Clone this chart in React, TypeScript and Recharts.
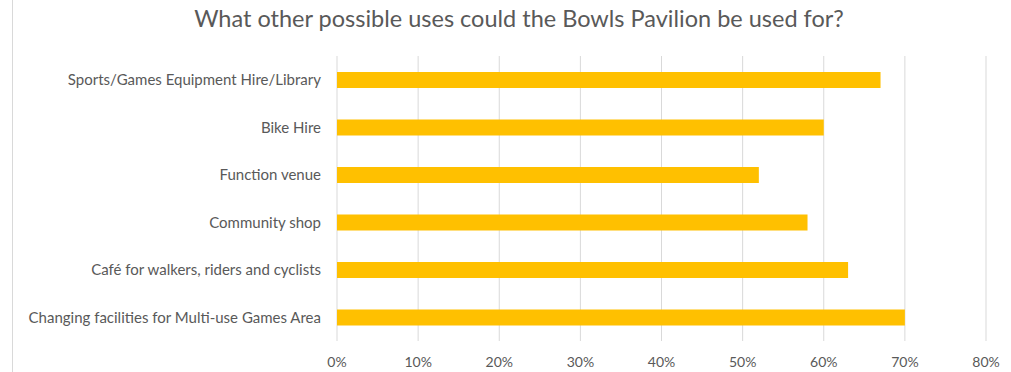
import React from "react";
import {
  BarChart,
  Bar,
  XAxis,
  YAxis,
  CartesianGrid,
} from "recharts";

const uses = [
  "Sports/Games Equipment Hire/Library",
  "Bike Hire",
  "Function venue",
  "Community shop",
  "Café for walkers, riders and cyclists",
  "Changing facilities for Multi-use Games Area",
];
const shares = [0.67, 0.6, 0.52, 0.58, 0.63, 0.7];
const pctTicks = [0, 0.1, 0.2, 0.3, 0.4, 0.5, 0.6, 0.7, 0.8];

const data = uses.map((use, i) => ({ use, share: shares[i] }));

const FONT = "Lato, 'Open Sans', sans-serif";
const GREY = "#595959";

export default function App() {
  return (
    <div
      style={{
        position: "fixed",
        left: 0,
        top: 0,
        width: 1011,
        height: 372,
        background: "#fff",
        fontFamily: FONT,
      }}
    >
      <div
        style={{
          position: "absolute",
          left: 12,
          top: 0,
          width: 1,
          height: 372,
          background: "#d9d9d9",
        }}
      />
      <div
        style={{
          position: "absolute",
          left: 0,
          right: 0,
          top: 4,
          textAlign: "center",
          fontSize: 23.5,
          color: GREY,
          paddingLeft: 27,
        }}
      >
        What other possible uses could the Bowls Pavilion be used for?
      </div>
      <BarChart
        layout="vertical"
        width={1011}
        height={372}
        data={data}
        margin={{ top: 56, right: 25, left: 0, bottom: 6 }}
        barSize={16}
      >
        <CartesianGrid horizontal={false} stroke="#d9d9d9" />
        <XAxis
          type="number"
          domain={[0, 0.8]}
          ticks={pctTicks}
          tickFormatter={(v) => `${Math.round(v * 100)}%`}
          axisLine={false}
          tickLine={false}
          height={25}
          tick={{ fill: GREY, fontSize: 14, fontFamily: FONT }}
          dy={8}
        />
        <YAxis
          type="category"
          dataKey="use"
          width={337}
          axisLine={false}
          tickLine={false}
          tickMargin={10}
          tick={{ fill: GREY, fontSize: 15, fontFamily: FONT }}
        />
        <Bar dataKey="share" fill="#ffc000" isAnimationActive={false} />
      </BarChart>
    </div>
  );
}
